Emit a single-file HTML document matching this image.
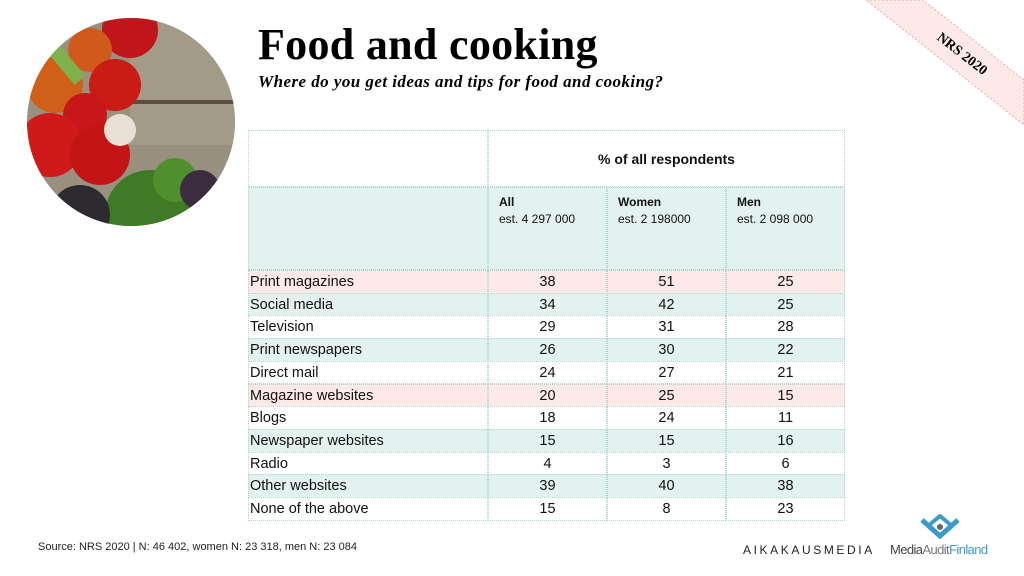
<!DOCTYPE html>
<html><head><meta charset="utf-8"><style>
body{margin:0;width:1024px;height:576px;background:#fff;position:relative;overflow:hidden;font-family:"Liberation Sans",sans-serif}
.abs{position:absolute}
#title{left:258px;top:20px;font-family:"Liberation Serif",serif;font-weight:bold;font-size:44px;color:#000;line-height:50px;letter-spacing:0.3px}
#sub{left:258px;top:72px;font-family:"Liberation Serif",serif;font-weight:bold;font-style:italic;font-size:17px;color:#000;letter-spacing:0.45px}
.cell{position:absolute;box-sizing:border-box;border:1px dotted #a9d6d0;font-size:14.5px;color:#111}
.num{text-align:center}
</style></head><body>
<svg class="abs" style="left:0;top:0" width="1024" height="576">
<defs><clipPath id="cc"><circle cx="131" cy="122" r="104"/></clipPath></defs>
<g clip-path="url(#cc)">
<rect x="20" y="10" width="230" height="230" fill="#9a9080"/>
<rect x="130" y="15" width="110" height="130" fill="#a49a88"/>
<rect x="130" y="100" width="110" height="4" fill="#5a4e3e"/>
<circle cx="130" cy="30" r="28" fill="#c0161b"/>
<circle cx="90" cy="50" r="22" fill="#d05a1c"/>
<circle cx="55" cy="85" r="28" fill="#d06018"/>
<circle cx="115" cy="85" r="26" fill="#c81c14"/>
<circle cx="85" cy="115" r="22" fill="#c8161a"/>
<circle cx="50" cy="145" r="32" fill="#d01a1a"/>
<circle cx="100" cy="155" r="30" fill="#c41416"/>
<circle cx="120" cy="130" r="16" fill="#e8e0d4"/>
<circle cx="150" cy="215" r="45" fill="#3f7a26"/>
<circle cx="175" cy="180" r="22" fill="#4f8f2c"/>
<circle cx="80" cy="215" r="30" fill="#2d2a30"/>
<circle cx="200" cy="190" r="20" fill="#3b2c40"/>
<rect x="60" y="45" width="14" height="40" fill="#7fb24a" transform="rotate(-40 67 65)"/>
</g>
<polygon points="866,0 923,0 1024,80 1024,125" fill="#fde9e8" stroke="#e7a9a9" stroke-dasharray="2,2"/>
<text x="962" y="58" transform="rotate(38 962 54)" text-anchor="middle" font-family="Liberation Serif" font-weight="bold" font-size="14">NRS 2020</text>
</svg>
<div id="title" class="abs">Food and cooking</div>
<div id="sub" class="abs">Where do you get ideas and tips for food and cooking?</div>
<div id="tbl"></div>
<div class="abs" style="left:38px;top:541px;font-size:11px;color:#222">Source: NRS 2020 | N: 46 402, women N: 23 318, men N: 23 084</div>
<div class="abs" style="left:743px;top:543px;font-size:12px;letter-spacing:2.6px;color:#222">AIKAKAUSMEDIA</div>
<svg class="abs" style="left:918px;top:514px" width="44" height="28"><path d="M4 6 L22 22 L40 6" stroke="#3d9ac8" stroke-width="5" fill="none"/><path d="M10 12 L22 2 L34 12" stroke="#3d9ac8" stroke-width="4" fill="none"/><circle cx="22" cy="13" r="3" fill="#666"/></svg>
<div class="abs" style="left:890px;top:542px;font-size:13px;letter-spacing:-0.6px"><span style="color:#444">Media</span><span style="color:#777">Audit</span><span style="color:#3d9ac8">Finland</span></div>
<script>
const categories=["Print magazines","Social media","Television","Print newspapers","Direct mail","Magazine websites","Blogs","Newspaper websites","Radio","Other websites","None of the above"];
const allValues=[38,34,29,26,24,20,18,15,4,39,15];
const womenValues=[51,42,31,30,27,25,24,15,3,40,8];
const menValues=[25,25,28,22,21,15,11,16,6,38,23];
const rowColors=["#fde9e8","#e3f2ef","#fff","#e3f2ef","#fff","#fde9e8","#fff","#e3f2ef","#fff","#e3f2ef","#fff"];
const t=document.getElementById('tbl');
const cols=[248,488,607,726,845];
function cell(x,y,w,h,bg,html,cls,name){const d=document.createElement('div');d.className='cell '+(cls||'');
d.style.cssText+=`left:${x}px;top:${y}px;width:${w}px;height:${h}px;background:${bg};`;d.innerHTML=html;


t.appendChild(d);return d;}
cell(248,130,240,57,'#fff','','', 'header-blank');
cell(488,130,357,57,'#fff','<div style="text-align:center;padding-top:20px;font-weight:bold;font-size:14px">% of all respondents</div>','','header-respondents');
cell(248,187,240,83,'#e3f2ef','','','subheader-blank');
const heads=[["All","est. 4 297 000"],["Women","est. 2 198000"],["Men","est. 2 098 000"]];
heads.forEach((hd,i)=>{cell(cols[i+1],187,cols[i+2]-cols[i+1],83,'#e3f2ef',`<div style="padding:6px 0 0 10px;font-size:12px;line-height:17px"><b>${hd[0]}</b><br>${hd[1]}</div>`,'','column-header-'+hd[0].toLowerCase());});
const rh=22.7;
categories.forEach((c,r)=>{const y=270+r*rh;const bg=rowColors[r];
cell(248,y,240,rh+1,bg,`<div style="padding:3px 0 0 1px">${c}</div>`,'','row-label');
[allValues,womenValues,menValues].forEach((arr,i)=>{cell(cols[i+1],y,cols[i+2]-cols[i+1],rh+1,bg,`<div style="padding-top:3px">${arr[r]}</div>`,'num','value-cell');});
});
</script>
</body></html>
